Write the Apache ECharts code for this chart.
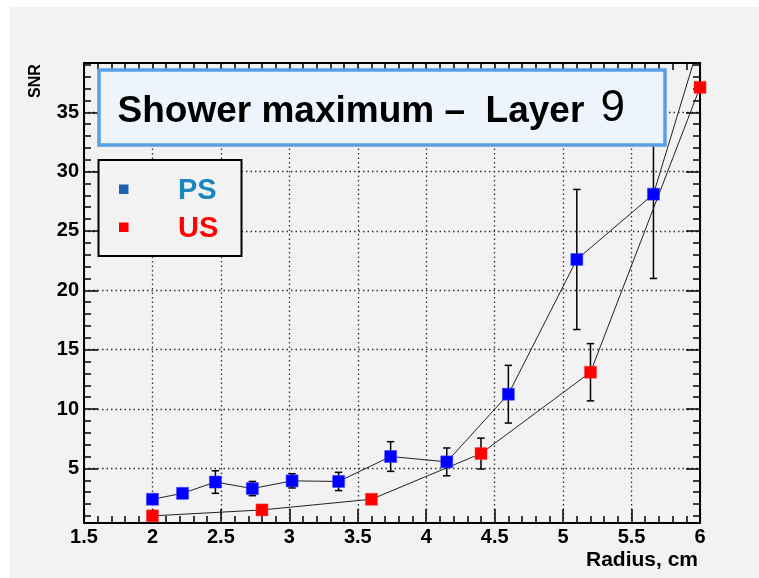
<!DOCTYPE html>
<html>
<head>
<meta charset="utf-8">
<script src="https://cdn.jsdelivr.net/npm/echarts@6/dist/echarts.min.js"></script>
<style>html,body{margin:0;padding:0;background:#fff;}#c{width:759px;height:578px;}</style>
</head>
<body>
<div id="c"></div>
<script>
// ---- data ----
const psX   = [2.0, 2.22, 2.46, 2.73, 3.02, 3.36, 3.74, 4.15, 4.6, 5.1, 5.66, 6.0];
const psY   = [2.4, 2.9, 3.85, 3.3, 3.95, 3.9, 6.0, 5.55, 11.25, 22.6, 28.1, 41.0];
const psErr = [0.3, 0.25, 0.95, 0.6, 0.6, 0.77, 1.25, 1.17, 2.43, 5.9, 7.1, 0];
const usX   = [2.0, 2.8, 3.6, 4.4, 5.2, 6.0];
const usY   = [1.0, 1.5, 2.4, 6.25, 13.1, 37.1];
const usErr = [0.25, 0.3, 0.35, 1.3, 2.41, 0];
const yMajorTicks = [5, 10, 15, 20, 25, 30, 35];
const yMinorTicks = [1,2,3,4,6,7,8,9,11,12,13,14,16,17,18,19,21,22,23,24,26,27,28,29,31,32,33,34,36,37,38,39];
const xMin = 1.5, xMax = 6, xStep = 0.5;
const yMin = 0.4, yMax = 39.15;
const titleMain = 'Shower maximum \u2013  Layer';
const titleNum = '9';
const seriesNames = ['PS', 'US'];
const xTitle = 'Radius, cm';
const yTitle = 'SNR';

const FONT = '"Liberation Sans", Arial, Helvetica, sans-serif';
const ps = psX.map((x, i) => [x, psY[i]]);
const us = usX.map((x, i) => [x, usY[i]]);
const psE = psX.map((x, i) => [x, psY[i] - psErr[i], psY[i] + psErr[i]]).filter((d, i) => psErr[i] > 0);
const usE = usX.map((x, i) => [x, usY[i] - usErr[i], usY[i] + usErr[i]]).filter((d, i) => usErr[i] > 0);

function errRender(params, api) {
  const x = api.value(0), lo = api.value(1), hi = api.value(2);
  const a = api.coord([x, lo]), b = api.coord([x, hi]);
  const w = 3.7, st = {stroke: '#000', lineWidth: 1.5};
  return {type: 'group', children: [
    {type: 'line', shape: {x1: a[0], y1: a[1], x2: b[0], y2: b[1]}, style: st},
    {type: 'line', shape: {x1: a[0] - w, y1: a[1], x2: a[0] + w, y2: a[1]}, style: st},
    {type: 'line', shape: {x1: b[0] - w, y1: b[1], x2: b[0] + w, y2: b[1]}, style: st}
  ]};
}

const axisLine = {show: true, lineStyle: {color: '#000', width: 2}};
const labelStyle = {color: '#000', fontWeight: 'bold', fontSize: 20, fontFamily: FONT};
const grid = {dotted: {color: '#333', width: 1.3, type: [1.5, 3]}};

function xAx(pos, main) {
  return {
    type: 'value', position: pos, min: xMin, max: xMax, interval: xStep,
    axisLine: axisLine,
    axisTick: {show: true, inside: true, length: 14, lineStyle: {color: '#000', width: 1.5}},
    minorTick: {show: true, splitNumber: 5, length: 7, lineStyle: {color: '#000', width: 1.5}},
    axisLabel: main ? Object.assign({show: true, margin: 4, formatter: v => String(v)}, labelStyle) : {show: false},
    splitLine: main ? {show: true, lineStyle: grid.dotted} : {show: false},
    minorSplitLine: {show: false}
  };
}
function yAx(pos, main, ticks, len) {
  return {
    type: 'value', position: pos, min: yMin, max: yMax, splitNumber: 8,
    axisLine: main ? axisLine : {show: false},
    axisTick: {show: true, inside: true, length: len, customValues: ticks, lineStyle: {color: '#000', width: 1.5}},
    axisLabel: (main && pos === 'left') ? Object.assign({show: true, margin: 5, customValues: ticks, formatter: v => String(v)}, labelStyle) : {show: false},
    splitLine: (main && pos === 'left') ? {show: true, lineStyle: grid.dotted} : {show: false}
  };
}

const chart = echarts.init(document.getElementById('c'), null, {renderer: 'canvas'});
chart.setOption({
  backgroundColor: '#f2f2f2',
  animation: false,
  grid: {left: 84, right: 59, top: 63, bottom: 55, containLabel: false},
  xAxis: [xAx('bottom', true), xAx('top', false)],
  yAxis: [
    yAx('left', true, yMajorTicks, 14),
    yAx('left', false, yMinorTicks, 7),
    yAx('right', true, yMajorTicks, 14),
    yAx('right', false, yMinorTicks, 7)
  ],
  series: [
    {type: 'custom', renderItem: errRender, data: psE, encode: {x: 0, y: [1, 2]}, clip: true, z: 2, xAxisIndex: 0, yAxisIndex: 0},
    {type: 'custom', renderItem: errRender, data: usE, encode: {x: 0, y: [1, 2]}, clip: true, z: 2, xAxisIndex: 0, yAxisIndex: 0},
    {name: seriesNames[0], type: 'line', data: ps, symbol: 'rect', symbolSize: 12, showAllSymbol: true, clip: true, z: 3,
     itemStyle: {color: '#0000ff', borderColor: '#3a3aff', borderWidth: 0.5}, lineStyle: {color: '#222', width: 1}},
    {name: seriesNames[1], type: 'line', data: us, symbol: 'rect', symbolSize: 12, showAllSymbol: true, clip: true, z: 3,
     itemStyle: {color: '#ff0000', borderColor: '#ff3a3a', borderWidth: 0.5}, lineStyle: {color: '#222', width: 1}}
  ],
  graphic: [
    {type: 'rect', shape: {x: 0, y: 0, width: 759, height: 7}, style: {fill: '#fff'}, z: 1},
    {type: 'rect', shape: {x: 0, y: 0, width: 10, height: 578}, style: {fill: '#fff'}, z: 1},
    // title box
    {type: 'rect', shape: {x: 99, y: 70, width: 566, height: 75}, style: {fill: '#eef4fc', stroke: '#5a9fe3', lineWidth: 3.5}, z: 100},
    {type: 'text', x: 117.5, y: 112, z: 101, style: {text: titleMain, fill: '#000', font: 'bold 37px ' + FONT, align: 'left', verticalAlign: 'middle'}},
    {type: 'text', x: 600.5, y: 109, z: 101, style: {text: titleNum, fill: '#000', font: '44px ' + FONT, align: 'left', verticalAlign: 'middle'}},
    // legend box
    {type: 'rect', shape: {x: 98.5, y: 160, width: 143, height: 96}, style: {fill: '#f2f2f2', stroke: '#000', lineWidth: 2}, z: 100},
    {type: 'rect', shape: {x: 119, y: 184.5, width: 9.5, height: 9.5}, style: {fill: '#1e62b5'}, z: 101},
    {type: 'rect', shape: {x: 119, y: 222.5, width: 9.5, height: 9.5}, style: {fill: '#ff0000'}, z: 101},
    {type: 'text', x: 178, y: 191, z: 101, style: {text: seriesNames[0], fill: '#1a86c0', font: 'bold 29px ' + FONT, align: 'left', verticalAlign: 'middle'}},
    {type: 'text', x: 178, y: 229, z: 101, style: {text: seriesNames[1], fill: '#ff0000', font: 'bold 29px ' + FONT, align: 'left', verticalAlign: 'middle'}},
    // axis titles
    {type: 'text', x: 698, y: 560, z: 101, style: {text: xTitle, fill: '#000', font: 'bold 21px ' + FONT, align: 'right', verticalAlign: 'middle'}},
    {type: 'text', x: 36, y: 81, rotation: Math.PI / 2, z: 101, style: {text: yTitle, fill: '#000', font: 'bold 16px ' + FONT, align: 'center', verticalAlign: 'middle'}}
  ]
});
</script>
</body>
</html>
